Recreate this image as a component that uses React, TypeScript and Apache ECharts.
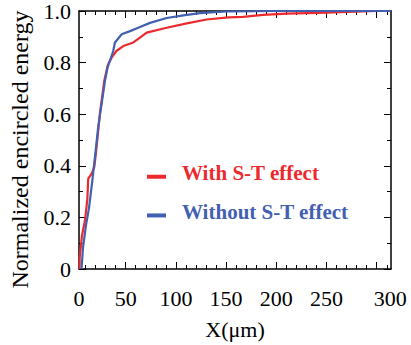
import React, { useEffect, useRef } from "react";
import * as echarts from "echarts";

const FONT = "Times New Roman, Liberation Serif, DejaVu Serif, serif";
const RED = "#ec2a2e";
const BLUE = "#4260b2";

const seriesNames = ["With S-T effect", "Without S-T effect"];

// [x (μm), normalized encircled energy]
const withST: [number, number][] = [
  [4.0, 0], [4.2, 0.045], [6.5, 0.13], [9.5, 0.19], [11.8, 0.27], [12.7, 0.35],
  [16.1, 0.37], [18.7, 0.395], [20.4, 0.45], [24.4, 0.605], [28.7, 0.73],
  [32.1, 0.79], [36.1, 0.82], [41, 0.846], [47.6, 0.864], [57.6, 0.878],
  [64.2, 0.897], [70.9, 0.916], [90.8, 0.935], [110.8, 0.952], [130.7, 0.967],
  [152.2, 0.975], [166.8, 0.977], [186.8, 0.985], [210.4, 0.99], [250.2, 0.994],
  [300, 1.0], [314.2, 1.0],
];

const withoutST: [number, number][] = [
  [6.0, 0], [7.5, 0.083], [10.5, 0.17], [13.4, 0.235], [16.7, 0.34], [20.1, 0.46],
  [22.7, 0.553], [26.1, 0.642], [29.4, 0.73], [31.9, 0.78], [37.6, 0.845],
  [39.3, 0.878], [46, 0.91], [54.3, 0.922], [62.5, 0.935], [74.2, 0.954],
  [90.8, 0.973], [107.4, 0.983], [124, 0.992], [150.6, 0.998], [206.7, 1.0],
  [314.2, 1.0],
];

const xMin = 3.5;
const xMax = 314.2;
const xMajorTicks = [50, 100, 150, 200, 250, 300];
const xMinorTicks = [10, 20, 30, 40, 60, 70, 80, 90, 110, 120, 130, 140, 160, 170, 180, 190, 210, 220, 230, 240, 260, 270, 280, 290, 310];
const xLabelValues = [xMin, 50, 100, 150, 200, 250, 300];
const xLabelTexts = ["0", "50", "100", "150", "200", "250", "300"];

const xTitle = "X(μm)";
const yTitle = "Normalized encircled energy";

export default function App() {
  const ref = useRef<HTMLDivElement>(null);

  useEffect(() => {
    if (!ref.current) return;
    const chart = echarts.init(ref.current, undefined, { renderer: "svg" });

    const axisLine = { show: true, onZero: false, lineStyle: { color: "#000", width: 1.5 } };
    const tickStyle = { color: "#000", width: 1 };

    const xBase = (position: string) => ({
      type: "value",
      position,
      min: xMin,
      max: xMax,
      splitLine: { show: false },
    });

    const yBase = (position: string) => ({
      type: "value",
      position,
      min: 0,
      max: 1,
      interval: 0.2,
      axisLine,
      axisTick: { show: true, inside: true, length: 7, lineStyle: tickStyle },
      minorTick: { show: true, splitNumber: 2, length: 4, lineStyle: tickStyle },
      splitLine: { show: false },
      minorSplitLine: { show: false },
    });

    chart.setOption({
      animation: false,
      backgroundColor: "#fff",
      textStyle: { fontFamily: FONT },
      grid: { left: 79, right: 20, top: 9.5, bottom: 73.3, containLabel: false },
      legend: {
        left: 147,
        top: 162,
        padding: 0,
        orient: "vertical",
        itemWidth: 30,
        itemHeight: 11.5,
        itemGap: 16.7,
        icon: "path://M0,0M0,7.5h19v4h-19zM30,0",
        selectedMode: false,
        textStyle: { fontSize: 21, fontWeight: "bold", fontFamily: FONT, lineHeight: 22 },
        data: [
          { name: seriesNames[0], textStyle: { color: RED, fontFamily: FONT, fontWeight: "bold", fontSize: 21 } },
          { name: seriesNames[1], textStyle: { color: BLUE, fontFamily: FONT, fontWeight: "bold", fontSize: 21 } },
        ],
      },
      xAxis: [
        {
          ...xBase("bottom"),
          axisLine,
          axisTick: { show: true, inside: true, length: 7, customValues: xMajorTicks, lineStyle: tickStyle },
          axisLabel: {
            show: true,
            customValues: xLabelValues,
            margin: 18,
            fontSize: 22,
            color: "#000",
            fontFamily: FONT,
            formatter: (v: number) => {
              const i = xLabelValues.findIndex((t) => Math.abs(t - v) < 1e-6);
              const s = i >= 0 ? xLabelTexts[i] : "";
              return i === xLabelValues.length - 1 ? `{r|${s}}` : s;
            },
            rich: { r: { fontSize: 22, fontFamily: FONT, color: "#000", padding: [0, 0, 0, 27] } },
          },
          name: xTitle,
          nameLocation: "middle",
          nameGap: 49,
          nameTextStyle: { fontSize: 22, color: "#000", fontFamily: FONT },
        },
        {
          ...xBase("bottom"),
          axisLine: { show: false, onZero: false },
          axisTick: { show: true, inside: true, length: 4, customValues: xMinorTicks, lineStyle: tickStyle },
          axisLabel: { show: false },
        },
        {
          ...xBase("top"),
          axisLine,
          axisTick: { show: true, inside: true, length: 7, customValues: xMajorTicks, lineStyle: tickStyle },
          axisLabel: { show: false },
        },
        {
          ...xBase("top"),
          axisLine: { show: false, onZero: false },
          axisTick: { show: true, inside: true, length: 4, customValues: xMinorTicks, lineStyle: tickStyle },
          axisLabel: { show: false },
        },
      ],
      yAxis: [
        {
          ...yBase("left"),
          axisLabel: {
            show: true,
            margin: 8,
            fontSize: 22,
            color: "#000",
            fontFamily: FONT,
            formatter: (v: number) => (v === 0 ? "0" : v.toFixed(1)),
          },
          name: yTitle,
          nameLocation: "middle",
          nameGap: 47,
          nameTextStyle: { fontSize: 24, color: "#000", fontFamily: FONT, padding: [0, 19, 0, 0] },
        },
        {
          ...yBase("right"),
          axisLabel: { show: false },
        },
      ],
      series: [
        {
          name: seriesNames[0],
          type: "line",
          xAxisIndex: 0,
          yAxisIndex: 0,
          data: withST,
          showSymbol: false,
          symbol: "none",
          color: RED,
          lineStyle: { color: RED, width: 2.2 },
        },
        {
          name: seriesNames[1],
          type: "line",
          xAxisIndex: 0,
          yAxisIndex: 0,
          data: withoutST,
          showSymbol: false,
          symbol: "none",
          color: BLUE,
          lineStyle: { color: BLUE, width: 2.2 },
        },
      ],
    });

    return () => chart.dispose();
  }, []);

  return (
    <div
      ref={ref}
      style={{ position: "absolute", left: 0, top: 0, width: 411, height: 345, background: "#fff" }}
    />
  );
}
